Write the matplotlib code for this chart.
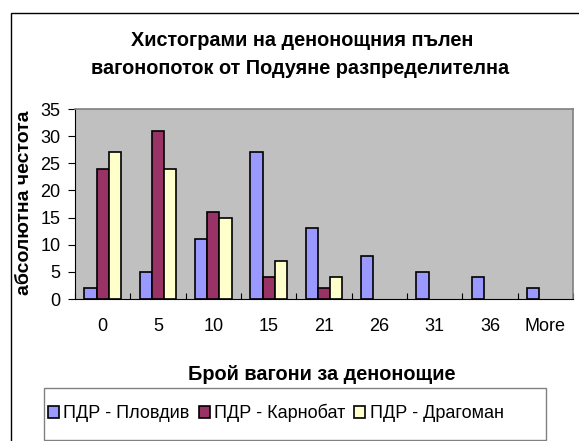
import matplotlib
matplotlib.use("Agg")
import matplotlib.pyplot as plt
from matplotlib.patches import Rectangle, Patch
import numpy as np

plt.rcParams['font.family'] = ['Liberation Sans', 'DejaVu Sans']

categories = ['0', '5', '10', '15', '21', '26', '31', '36', 'More']
plovdiv = [2, 5, 11, 27, 13, 8, 5, 4, 2]
karnobat = [24, 31, 16, 4, 2, 0, 0, 0, 0]
dragoman = [27, 24, 15, 7, 4, 0, 0, 0, 0]
series_names = ['ПДР - Пловдив', 'ПДР - Карнобат', 'ПДР - Драгоман']
colors = ['#9999ff', '#993366', '#ffffcc']

W, H = 579, 441
fig = plt.figure(figsize=(W / 100, H / 100), dpi=100)

def fx(px):
    return px / W

def fy(py):
    return 1 - py / H

# outer chart frame (bottom and right run off the image)
fig.patches.append(Rectangle((fx(11), -0.1), 1.0, fy(13) + 0.1,
                             transform=fig.transFigure, fill=False, edgecolor='black', linewidth=1.0))
# legend frame
fig.patches.append(Rectangle((fx(44), fy(440)), fx(546 - 44), fy(388) - fy(440),
                             transform=fig.transFigure, fill=False, edgecolor='#808080', linewidth=1.0))

left, right, top, bottom = 75, 573, 109, 299
ax = fig.add_axes([fx(left), fy(bottom), fx(right - left), fy(top) - fy(bottom)])
ax.set_facecolor('#c0c0c0')

x = np.arange(len(categories))
bw = 1 / 4.5
for i, (vals, c, name) in enumerate(zip([plovdiv, karnobat, dragoman], colors, series_names)):
    vals = np.array(vals, dtype=float)
    mask = vals > 0
    ax.bar(x[mask] + (i - 1) * bw, vals[mask], width=bw, color=c, edgecolor='black',
           linewidth=1.2, label=name, zorder=3)

ax.set_xlim(-0.5, len(categories) - 0.5)
ax.set_ylim(0, 35)
ax.set_yticks(range(0, 36, 5))
ax.set_xticks(np.arange(-0.5, len(categories), 1))
ax.set_xticklabels([])
ax.set_xticks(x, minor=True)
ax.set_xticklabels(categories, minor=True)
ax.tick_params(axis='x', which='minor', length=0, pad=14, labelsize=13)
ax.tick_params(axis='x', which='major', direction='in', length=4, width=0.8)
ax.tick_params(axis='y', direction='out', length=5, width=0.8, labelsize=13, pad=5.5)

for s in ['top', 'right']:
    ax.spines[s].set_color('#808080')
    ax.spines[s].set_linewidth(1.2)
for s in ['left', 'bottom']:
    ax.spines[s].set_color('black')
    ax.spines[s].set_linewidth(0.8)

fig.text(fx(302), fy(46), 'Хистограми на денонощния пълен', ha='center', va='baseline',
         fontsize=14.3, fontweight='bold')
fig.text(fx(300), fy(74), 'вагонопоток от Подуяне разпределителна', ha='center', va='baseline',
         fontsize=14.3, fontweight='bold')
fig.text(fx(322), fy(380), 'Брой вагони за денонощие', ha='center', va='baseline',
         fontsize=14.3, fontweight='bold')
fig.text(fx(25), fy(203), 'абсолютна честота', ha='center', va='center', rotation=90,
         fontsize=14, fontweight='bold')

handles = [Patch(facecolor=c, edgecolor='black', linewidth=1.2) for c in colors]
leg = fig.legend(handles, series_names, loc='center left', bbox_to_anchor=(fx(48), fy(413)),
                 ncol=3, frameon=False, fontsize=13, handlelength=0.6,
                 handleheight=0.6, handletextpad=0.25, columnspacing=0.5, borderpad=0,
                 borderaxespad=0)

fig.savefig('out.png', dpi=100)
